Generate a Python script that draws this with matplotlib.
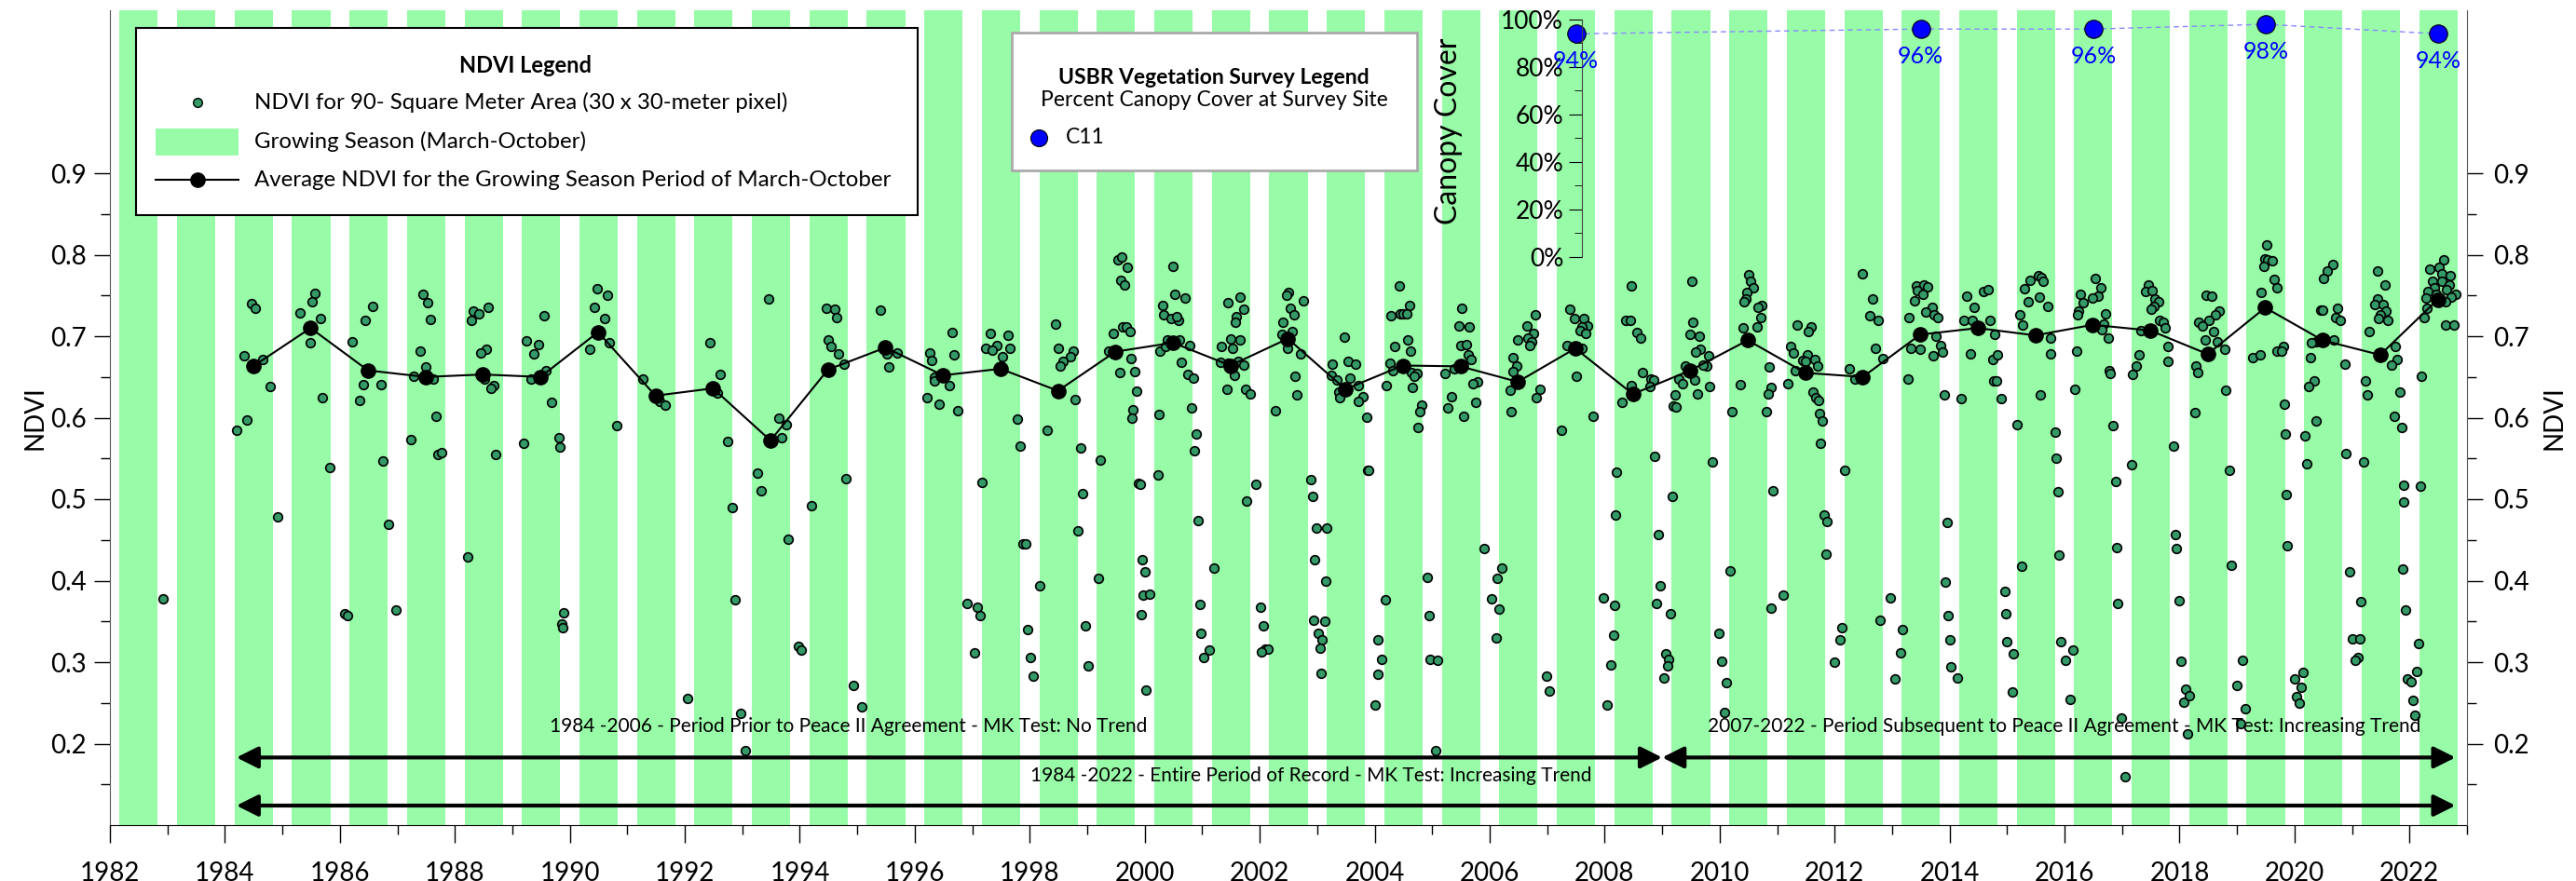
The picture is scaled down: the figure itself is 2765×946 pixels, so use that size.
import matplotlib
matplotlib.use("Agg")
import matplotlib.pyplot as plt
from matplotlib.lines import Line2D
from matplotlib.patches import Rectangle
from matplotlib.ticker import MultipleLocator, FixedLocator, PercentFormatter

plt.rcParams["font.family"] = ["Lato", "DejaVu Sans"]

# --- data --------------------------------------------------------------------
# individual NDVI observations (decimal year, NDVI), one line per growing season
obs_year = [
    1982.92,
    1984.47, 1984.52, 1984.33, 1984.65, 1984.78, 1984.38, 1984.21, 1984.91,
    1985.56, 1985.52, 1985.30, 1985.66, 1985.48, 1985.70, 1985.83, 1986.09, 1986.14,
    1986.57, 1986.44, 1986.22, 1986.40, 1986.71, 1986.35, 1986.75, 1986.84, 1986.97,
    1987.45, 1987.53, 1987.58, 1987.40, 1987.50, 1987.28, 1987.63, 1987.67, 1987.23, 1987.71, 1987.77,
    1988.32, 1988.41, 1988.28, 1988.58, 1988.55, 1988.45, 1988.51, 1988.68, 1988.63, 1988.71, 1988.23,
    1989.55, 1989.25, 1989.46, 1989.37, 1989.59, 1989.33, 1989.68, 1989.19, 1989.81, 1989.83, 1989.90, 1989.86, 1989.88,
    1990.47, 1990.65, 1990.42, 1990.60, 1990.69, 1990.34, 1990.82,
    1991.27, 1991.56, 1991.66, 1992.05,
    1992.44, 1992.62, 1992.57, 1992.75, 1992.83, 1992.88, 1992.97, 1993.06,
    1993.45, 1993.63, 1993.76, 1993.68, 1993.27, 1993.32, 1993.80, 1993.97, 1994.02,
    1994.46, 1994.60, 1994.64, 1994.50, 1994.55, 1994.68, 1994.77, 1994.80, 1994.20, 1994.94, 1995.07,
    1995.41, 1995.51, 1995.69, 1995.55,
    1996.65, 1996.26, 1996.29, 1996.69, 1996.35, 1996.34, 1996.60, 1996.21, 1996.43, 1996.74, 1996.91, 1997.08, 1997.13, 1997.04,
    1997.31, 1997.62, 1997.43, 1997.24, 1997.34, 1997.65, 1997.53, 1997.79, 1997.83, 1997.17, 1997.88, 1997.93, 1997.96, 1998.01, 1998.06,
    1998.45, 1998.49, 1998.75, 1998.71, 1998.58, 1998.53, 1998.79, 1998.31, 1998.88, 1999.23, 1998.92, 1998.84, 1999.19, 1998.18, 1998.97, 1999.02,
    1999.53, 1999.60, 1999.69, 1999.58, 1999.65, 1999.61, 1999.68, 1999.75, 1999.45, 1999.37, 1999.76, 1999.56, 1999.82, 1999.86, 1999.80, 1999.78, 1999.89, 1999.92, 1999.96, 2000.00, 1999.97, 2000.08, 1999.94, 2000.02,
    2000.49, 2000.53, 2000.70, 2000.31, 2000.33, 2000.45, 2000.58, 2000.56, 2000.40, 2000.61, 2000.26, 2000.36, 2000.79, 2000.64, 2000.75, 2000.84, 2000.24, 2000.81, 2000.89, 2000.87, 2000.23, 2000.92, 2001.20, 2000.96, 2000.98, 2001.12, 2001.03,
    2001.45, 2001.66, 2001.73, 2001.60, 2001.58, 2001.49, 2001.65, 2001.34, 2001.53, 2001.31, 2001.45, 2001.62, 2001.72, 2001.56, 2001.43, 2001.75, 2001.84, 2001.93, 2001.77, 2002.01, 2002.06, 2002.10, 2002.15, 2002.03,
    2002.50, 2002.46, 2002.76, 2002.54, 2002.59, 2002.41, 2002.56, 2002.38, 2002.48, 2002.71, 2002.61, 2002.65, 2002.28, 2002.89, 2002.92, 2002.98, 2003.17, 2002.96, 2003.15, 2002.94, 2003.13, 2003.02, 2003.09, 2003.05, 2003.07,
    2003.48, 2003.53, 2003.67, 2003.26, 2003.24, 2003.57, 2003.35, 2003.71, 2003.37, 2003.39, 2003.79, 2003.72, 2003.86, 2003.88, 2003.90, 2004.18, 2004.06, 2004.12, 2004.05, 2004.01,
    2004.43, 2004.60, 2004.29, 2004.44, 2004.50, 2004.55, 2004.58, 2004.35, 2004.62, 2004.26, 2004.32, 2004.64, 2004.73, 2004.69, 2004.20, 2004.66, 2004.82, 2004.78, 2004.75, 2004.91, 2004.95, 2004.96, 2005.10, 2005.06,
    2005.52, 2005.47, 2005.65, 2005.49, 2005.59, 2005.63, 2005.68, 2005.39, 2005.23, 2005.79, 2005.71, 2005.33, 2005.76, 2005.27, 2005.54, 2005.90, 2006.21, 2006.13, 2006.04, 2006.17, 2006.11,
    2006.48, 2006.40, 2006.47, 2006.41, 2006.35, 2006.38, 2006.65, 2006.76, 2006.67, 2006.73, 2006.70, 2006.79, 2006.88, 2006.81, 2006.99, 2007.03,
    2007.40, 2007.47, 2007.64, 2007.70, 2007.61, 2007.57, 2007.67, 2007.34, 2007.60, 2007.51, 2007.80, 2007.25, 2008.21, 2008.19, 2007.98, 2008.17, 2008.15, 2008.11, 2008.04,
    2008.46, 2008.36, 2008.44, 2008.56, 2008.62, 2008.65, 2008.81, 2008.86, 2008.47, 2008.78, 2008.30, 2008.87, 2009.18, 2008.93, 2008.97, 2008.90, 2009.15, 2009.07, 2009.11, 2009.09, 2009.03,
    2009.51, 2009.53, 2009.49, 2009.64, 2009.66, 2009.58, 2009.81, 2009.40, 2009.78, 2009.71, 2009.29, 2009.57, 2009.35, 2009.22, 2009.83, 2009.62, 2009.19, 2009.24, 2009.88, 2010.18, 2009.98, 2010.03, 2010.12, 2010.08,
    2010.51, 2010.54, 2010.59, 2010.48, 2010.45, 2010.42, 2010.73, 2010.67, 2010.71, 2010.41, 2010.65, 2010.86, 2010.90, 2010.84, 2010.36, 2010.22, 2010.82, 2010.93, 2011.10, 2010.90,
    2011.35, 2011.59, 2011.54, 2011.23, 2011.28, 2011.52, 2011.44, 2011.50, 2011.65, 2011.70, 2011.32, 2011.19, 2011.63, 2011.67, 2011.72, 2011.74, 2011.79, 2011.76, 2011.82, 2011.87, 2011.85, 2012.18, 2012.13, 2012.09, 2012.00,
    2012.48, 2012.66, 2012.61, 2012.75, 2012.71, 2012.84, 2012.26, 2012.35, 2012.97, 2012.79, 2013.18, 2013.14, 2013.05,
    2013.42, 2013.56, 2013.61, 2013.44, 2013.53, 2013.39, 2013.69, 2013.59, 2013.73, 2013.80, 2013.29, 2013.77, 2013.84, 2013.32, 2013.48, 2013.88, 2013.72, 2013.28, 2013.91, 2014.20, 2013.96, 2013.93, 2013.98, 2014.00, 2014.03, 2014.13,
    2014.29, 2014.42, 2014.59, 2014.67, 2014.25, 2014.39, 2014.70, 2014.37, 2014.75, 2014.76, 2014.79, 2014.84, 2014.82, 2014.89, 2015.18, 2015.25, 2014.97, 2014.98, 2015.00, 2015.11, 2015.09,
    2015.40, 2015.54, 2015.60, 2015.63, 2015.31, 2015.56, 2015.36, 2015.71, 2015.22, 2015.27, 2015.75, 2015.76, 2015.57, 2015.83, 2015.85, 2015.88, 2015.90, 2015.94, 2016.14, 2016.02, 2016.10,
    2016.53, 2016.63, 2016.28, 2016.58, 2016.49, 2016.32, 2016.25, 2016.22, 2016.71, 2016.68, 2016.65, 2016.76, 2016.21, 2016.18, 2016.78, 2016.80, 2016.84, 2016.89, 2016.91, 2016.93, 2016.99, 2017.05,
    2017.45, 2017.41, 2017.52, 2017.57, 2017.63, 2017.55, 2017.51, 2017.65, 2017.71, 2017.75, 2017.32, 2017.79, 2017.80, 2017.29, 2017.24, 2017.19, 2017.17, 2017.90, 2017.92, 2017.95, 2017.99, 2018.02, 2018.11, 2018.07, 2018.17, 2018.14,
    2018.46, 2018.56, 2018.69, 2018.63, 2018.51, 2018.33, 2018.40, 2018.59, 2018.44, 2018.66, 2018.79, 2018.29, 2018.31, 2018.27, 2018.81, 2018.86, 2018.90, 2019.09, 2018.99, 2019.14, 2019.06,
    2019.52, 2019.48, 2019.54, 2019.61, 2019.47, 2019.65, 2019.69, 2019.42, 2019.27, 2019.41, 2019.70, 2019.81, 2019.77, 2019.82, 2019.84, 2019.86, 2019.88, 2020.00, 2020.11, 2020.14, 2020.03, 2020.08,
    2020.66, 2020.57, 2020.51, 2020.45, 2020.49, 2020.75, 2020.72, 2020.79, 2020.38, 2020.30, 2020.69, 2020.28, 2020.87, 2020.35, 2020.24, 2020.37, 2020.18, 2020.22, 2020.89, 2020.96, 2021.16, 2021.00, 2021.14, 2021.10, 2021.06,
    2021.44, 2021.58, 2021.45, 2021.40, 2021.54, 2021.59, 2021.49, 2021.46, 2021.62, 2021.30, 2021.76, 2021.79, 2021.68, 2021.24, 2021.27, 2021.84, 2021.73, 2021.86, 2021.20, 2021.89, 2022.19, 2021.90, 2021.88, 2021.93, 2022.15, 2022.12, 2021.96, 2022.02, 2022.06, 2022.10,
    2022.59, 2022.35, 2022.51, 2022.56, 2022.71, 2022.40, 2022.57, 2022.43, 2022.70, 2022.32, 2022.46, 2022.65, 2022.81, 2022.28, 2022.73, 2022.63, 2022.31, 2022.25, 2022.63, 2022.77, 2022.21,
]
obs_ndvi = [
    0.378,
    0.740, 0.734, 0.676, 0.671, 0.638, 0.597, 0.585, 0.478,
    0.753, 0.742, 0.729, 0.722, 0.692, 0.625, 0.539, 0.360, 0.357,
    0.737, 0.720, 0.693, 0.641, 0.641, 0.621, 0.547, 0.469, 0.364,
    0.751, 0.741, 0.721, 0.682, 0.662, 0.651, 0.648, 0.602, 0.573, 0.555, 0.557,
    0.731, 0.728, 0.719, 0.735, 0.684, 0.679, 0.648, 0.639, 0.636, 0.555, 0.429,
    0.725, 0.694, 0.690, 0.678, 0.658, 0.647, 0.619, 0.569, 0.575, 0.564, 0.361, 0.347, 0.342,
    0.758, 0.750, 0.735, 0.722, 0.692, 0.684, 0.590,
    0.648, 0.620, 0.616, 0.255,
    0.692, 0.653, 0.630, 0.571, 0.490, 0.377, 0.237, 0.191,
    0.746, 0.599, 0.592, 0.575, 0.532, 0.510, 0.451, 0.319, 0.315,
    0.734, 0.733, 0.723, 0.695, 0.688, 0.678, 0.666, 0.525, 0.492, 0.271, 0.245,
    0.732, 0.678, 0.679, 0.662,
    0.705, 0.679, 0.670, 0.677, 0.650, 0.645, 0.639, 0.625, 0.617, 0.609, 0.372, 0.368, 0.357, 0.311,
    0.703, 0.701, 0.689, 0.685, 0.683, 0.685, 0.675, 0.598, 0.565, 0.521, 0.445, 0.445, 0.340, 0.306, 0.283,
    0.715, 0.685, 0.682, 0.675, 0.669, 0.664, 0.622, 0.585, 0.563, 0.548, 0.507, 0.461, 0.403, 0.394, 0.345, 0.296,
    0.794, 0.797, 0.785, 0.769, 0.763, 0.711, 0.712, 0.706, 0.703, 0.682, 0.673, 0.656, 0.657, 0.633, 0.610, 0.600, 0.519, 0.518, 0.426, 0.411, 0.382, 0.384, 0.358, 0.266,
    0.786, 0.752, 0.747, 0.738, 0.726, 0.722, 0.720, 0.724, 0.695, 0.696, 0.682, 0.687, 0.689, 0.668, 0.653, 0.649, 0.604, 0.612, 0.580, 0.559, 0.530, 0.474, 0.416, 0.371, 0.336, 0.315, 0.306,
    0.741, 0.748, 0.733, 0.724, 0.717, 0.697, 0.695, 0.688, 0.685, 0.668, 0.667, 0.669, 0.665, 0.652, 0.635, 0.635, 0.629, 0.518, 0.498, 0.367, 0.345, 0.316, 0.316, 0.313,
    0.754, 0.750, 0.743, 0.734, 0.726, 0.717, 0.706, 0.702, 0.685, 0.678, 0.651, 0.628, 0.609, 0.524, 0.504, 0.465, 0.465, 0.426, 0.400, 0.351, 0.350, 0.335, 0.327, 0.317, 0.286,
    0.699, 0.669, 0.666, 0.666, 0.652, 0.649, 0.646, 0.640, 0.631, 0.625, 0.626, 0.620, 0.601, 0.536, 0.535, 0.377, 0.328, 0.304, 0.285, 0.247,
    0.762, 0.738, 0.725, 0.728, 0.728, 0.728, 0.696, 0.687, 0.682, 0.667, 0.658, 0.656, 0.654, 0.651, 0.640, 0.637, 0.615, 0.607, 0.588, 0.404, 0.357, 0.304, 0.302, 0.192,
    0.734, 0.713, 0.712, 0.689, 0.690, 0.677, 0.672, 0.660, 0.654, 0.644, 0.642, 0.626, 0.619, 0.612, 0.602, 0.440, 0.416, 0.403, 0.378, 0.365, 0.330,
    0.695, 0.674, 0.663, 0.657, 0.634, 0.608, 0.713, 0.704, 0.698, 0.693, 0.689, 0.726, 0.635, 0.625, 0.283, 0.265,
    0.733, 0.722, 0.722, 0.713, 0.711, 0.707, 0.703, 0.689, 0.685, 0.651, 0.602, 0.585, 0.533, 0.481, 0.379, 0.370, 0.333, 0.297, 0.247,
    0.762, 0.720, 0.720, 0.705, 0.698, 0.655, 0.648, 0.646, 0.639, 0.638, 0.619, 0.553, 0.504, 0.457, 0.394, 0.372, 0.360, 0.310, 0.303, 0.295, 0.281,
    0.768, 0.717, 0.702, 0.700, 0.684, 0.681, 0.676, 0.663, 0.663, 0.665, 0.647, 0.646, 0.642, 0.628, 0.638, 0.629, 0.614, 0.613, 0.546, 0.412, 0.335, 0.301, 0.275, 0.238,
    0.776, 0.767, 0.760, 0.754, 0.746, 0.742, 0.738, 0.735, 0.723, 0.710, 0.712, 0.662, 0.637, 0.629, 0.641, 0.607, 0.607, 0.510, 0.382, 0.366,
    0.714, 0.712, 0.706, 0.687, 0.680, 0.677, 0.670, 0.669, 0.671, 0.664, 0.658, 0.642, 0.632, 0.625, 0.621, 0.605, 0.596, 0.569, 0.481, 0.473, 0.433, 0.536, 0.342, 0.327, 0.300,
    0.777, 0.746, 0.725, 0.719, 0.685, 0.673, 0.660, 0.648, 0.379, 0.351, 0.340, 0.311, 0.280,
    0.762, 0.763, 0.761, 0.756, 0.751, 0.743, 0.736, 0.730, 0.726, 0.723, 0.723, 0.700, 0.689, 0.685, 0.684, 0.681, 0.676, 0.647, 0.628, 0.624, 0.471, 0.398, 0.357, 0.328, 0.294, 0.281,
    0.749, 0.735, 0.755, 0.757, 0.719, 0.720, 0.720, 0.678, 0.671, 0.645, 0.702, 0.677, 0.645, 0.623, 0.592, 0.418, 0.387, 0.360, 0.325, 0.310, 0.263,
    0.769, 0.774, 0.772, 0.768, 0.758, 0.748, 0.742, 0.737, 0.726, 0.714, 0.698, 0.678, 0.628, 0.582, 0.550, 0.509, 0.432, 0.325, 0.315, 0.302, 0.254,
    0.771, 0.760, 0.752, 0.749, 0.747, 0.741, 0.731, 0.726, 0.728, 0.715, 0.708, 0.698, 0.682, 0.635, 0.658, 0.654, 0.590, 0.522, 0.441, 0.372, 0.232, 0.159,
    0.763, 0.755, 0.756, 0.746, 0.742, 0.737, 0.733, 0.720, 0.717, 0.710, 0.707, 0.687, 0.669, 0.677, 0.664, 0.653, 0.542, 0.565, 0.457, 0.440, 0.376, 0.301, 0.267, 0.251, 0.259, 0.212,
    0.750, 0.749, 0.731, 0.726, 0.720, 0.717, 0.713, 0.706, 0.696, 0.693, 0.684, 0.664, 0.655, 0.606, 0.634, 0.535, 0.419, 0.302, 0.272, 0.243, 0.225,
    0.812, 0.795, 0.794, 0.793, 0.786, 0.770, 0.759, 0.754, 0.674, 0.677, 0.682, 0.687, 0.682, 0.617, 0.580, 0.506, 0.443, 0.280, 0.269, 0.287, 0.258, 0.250,
    0.788, 0.780, 0.771, 0.732, 0.732, 0.734, 0.723, 0.719, 0.693, 0.692, 0.695, 0.674, 0.666, 0.645, 0.638, 0.596, 0.578, 0.543, 0.556, 0.411, 0.374, 0.329, 0.329, 0.306, 0.302,
    0.780, 0.763, 0.746, 0.739, 0.739, 0.731, 0.726, 0.722, 0.720, 0.706, 0.688, 0.671, 0.665, 0.645, 0.628, 0.631, 0.602, 0.588, 0.546, 0.517, 0.516, 0.497, 0.414, 0.364, 0.323, 0.289, 0.280, 0.276, 0.253, 0.235,
    0.794, 0.782, 0.785, 0.777, 0.774, 0.768, 0.768, 0.760, 0.763, 0.755, 0.752, 0.757, 0.752, 0.747, 0.748, 0.742, 0.734, 0.723, 0.714, 0.714, 0.651,
]

# growing-season (March-October) average NDVI
avg_years = list(range(1984, 2023))
avg_ndvi = [
    0.663, 0.710, 0.658, 0.650, 0.653, 0.650, 0.705, 0.627, 0.636, 0.572,
    0.659, 0.686, 0.652, 0.660, 0.633, 0.681, 0.692, 0.664, 0.697, 0.635,
    0.664, 0.663, 0.644, 0.685, 0.629, 0.658, 0.695, 0.655, 0.650, 0.702,
    0.710, 0.701, 0.714, 0.707, 0.678, 0.735, 0.695, 0.677, 0.745,
]

# USBR vegetation survey, site C11
survey_years = [2007, 2013, 2016, 2019, 2022]
canopy_cover = [0.94, 0.96, 0.96, 0.98, 0.94]

season_years = list(range(1982, 2023))
season_start_month, season_end_month = 3, 10

periods = [
    (1984.2, 2009.0, 0.183, "1984 -2006 - Period Prior to Peace II Agreement - MK Test: No Trend", 1994.85, 0.21),
    (2009.0, 2022.8, 0.183, "2007-2022 - Period Subsequent to Peace II Agreement - MK Test: Increasing Trend", 2016.0, 0.21),
    (1984.2, 2022.8, 0.124, "1984 -2022 - Entire Period of Record - MK Test: Increasing Trend", 2002.9, 0.149),
]

# --- styling ----------------------------------------------------------------
W, H = 2765, 946
SEASON_COLOR = "#98FBA8"
POINT_COLOR = "#339966"
TICK_FS = 20


def fx(px):
    return px / W


def fy(py):
    return 1 - py / H


fig = plt.figure(figsize=(W / 100, H / 100), dpi=100)
ax = fig.add_axes([fx(118), fy(886), fx(2648) - fx(118), fy(11) - fy(886)])

for yr in season_years:
    ax.axvspan(yr + (season_start_month - 1) / 12, yr + season_end_month / 12,
               color=SEASON_COLOR, lw=0, zorder=0)

ax.scatter(obs_year, obs_ndvi, s=48, color=POINT_COLOR, edgecolor="black",
           linewidth=1.2, zorder=3)
ax.plot([y + 0.49 for y in avg_years], avg_ndvi, color="black", lw=1.5,
        marker="o", markersize=11, zorder=4)

for x0, x1, y, label, tx, ty in periods:
    ax.annotate("", xy=(x1, y), xytext=(x0, y),
                arrowprops=dict(arrowstyle="<|-|>,head_length=0.7,head_width=0.35",
                                mutation_scale=20, lw=3, color="black",
                                shrinkA=0, shrinkB=0), zorder=5)
    ax.text(tx, ty, label, ha="center", va="bottom", fontsize=15, zorder=5)

ax.set_xlim(1982, 2023)
ax.set_ylim(0.1, 1.1)
ax.xaxis.set_major_locator(MultipleLocator(2))
ax.xaxis.set_minor_locator(MultipleLocator(1))
ax.yaxis.set_major_locator(FixedLocator([0.2, 0.3, 0.4, 0.5, 0.6, 0.7, 0.8, 0.9]))
ax.yaxis.set_minor_locator(FixedLocator([0.15 + 0.1 * i for i in range(8)]))
ax.yaxis.set_major_formatter(lambda v, p: f"{v:.1f}")
ax.tick_params(axis="x", which="major", length=14, width=1, pad=14, labelsize=TICK_FS)
ax.tick_params(axis="x", which="minor", length=7, width=1)
ax.tick_params(axis="y", which="major", length=12, width=1, pad=6, labelsize=TICK_FS)
ax.tick_params(axis="y", which="minor", length=7, width=1)
ax.spines["top"].set_visible(False)
ax.spines["right"].set_visible(False)
ax.spines["left"].set_color("#555555")
ax.set_ylabel("NDVI", fontsize=TICK_FS, labelpad=3)

ax2 = ax.twinx()
ax2.set_ylim(ax.get_ylim())
ax2.yaxis.set_major_locator(FixedLocator([0.2, 0.3, 0.4, 0.5, 0.6, 0.7, 0.8, 0.9]))
ax2.yaxis.set_minor_locator(FixedLocator([0.15 + 0.1 * i for i in range(8)]))
ax2.yaxis.set_major_formatter(lambda v, p: f"{v:.1f}")
ax2.tick_params(axis="y", which="major", length=12, width=1, pad=8, labelsize=TICK_FS)
ax2.tick_params(axis="y", which="minor", length=7, width=1)
for s in ["top", "left", "bottom"]:
    ax2.spines[s].set_visible(False)
ax2.spines["right"].set_color("#555555")
ax2.set_ylabel("NDVI", fontsize=TICK_FS, labelpad=10)

# canopy cover inset sharing the time scale of the main axes
ins = fig.add_axes([fx(118), fy(276), fx(2648) - fx(118), fy(21) - fy(276)],
                   facecolor="none")
ins.set_xlim(ax.get_xlim())
ins.set_ylim(0, 1)
for s in ["top", "right", "bottom"]:
    ins.spines[s].set_visible(False)
ins.spines["left"].set_position(("data", 2007.6))
ins.spines["left"].set_color("#444444")
ins.set_xticks([])
ins.yaxis.set_major_locator(MultipleLocator(0.2))
ins.yaxis.set_minor_locator(MultipleLocator(0.1))
ins.yaxis.set_major_formatter(PercentFormatter(1.0, decimals=0))
ins.tick_params(axis="y", which="major", length=10, pad=4, labelsize=19)
ins.tick_params(axis="y", which="minor", length=6)
ins.set_ylabel("Canopy Cover", fontsize=23)
ins.yaxis.set_label_coords(0.574, 0.53)

sx = [y + 0.5 for y in survey_years]
ins.plot(sx, canopy_cover, ls=(0, (4, 3)), color="#8888ff", lw=1, clip_on=False)
ins.plot(sx, canopy_cover, ls="none", marker="o", markersize=14, color="blue",
         markeredgecolor="black", markeredgewidth=0.8, clip_on=False)
for x, v in zip(sx, canopy_cover):
    ins.annotate(f"{v:.0%}", (x, v), xytext=(0, -13), textcoords="offset points",
                 ha="center", va="top", color="blue", fontsize=18)

# NDVI legend
fig.add_artist(Rectangle((fx(146), fy(231)), fx(985) - fx(146), fy(30) - fy(231),
                         transform=fig.transFigure, facecolor="white",
                         edgecolor="black", lw=1.5, zorder=10))
fig.text(fx(564), fy(70), "NDVI Legend", ha="center", va="center",
         fontsize=17, fontweight="bold", zorder=11)
fig.add_artist(Line2D([fx(212)], [fy(110)], ls="none", marker="o", markersize=7,
                      color=POINT_COLOR, markeredgecolor="black", zorder=11))
fig.add_artist(Rectangle((fx(167), fy(167)), fx(256) - fx(167), fy(138) - fy(167),
                         transform=fig.transFigure, facecolor=SEASON_COLOR,
                         lw=0, zorder=11))
fig.add_artist(Line2D([fx(167), fx(256)], [fy(193), fy(193)], color="black", lw=1.5,
                      zorder=11))
fig.add_artist(Line2D([fx(212)], [fy(193)], ls="none", marker="o", markersize=11,
                      color="black", zorder=11))
for py, label in [(110, "NDVI for 90- Square Meter Area (30 x 30-meter pixel)"),
                  (152, "Growing Season (March-October)"),
                  (193, "Average NDVI for the Growing Season Period of March-October")]:
    fig.text(fx(273), fy(py), label, ha="left", va="center", fontsize=17.3, zorder=11)

# USBR legend
fig.add_artist(Rectangle((fx(1086), fy(183)), fx(1521) - fx(1086), fy(35) - fy(183),
                         transform=fig.transFigure, facecolor="white",
                         edgecolor="#aaaaaa", lw=2, zorder=10))
fig.text(fx(1303), fy(83), "USBR Vegetation Survey Legend", ha="center", va="center",
         fontsize=16.5, fontweight="bold", zorder=11)
fig.text(fx(1303), fy(108), "Percent Canopy Cover at Survey Site", ha="center",
         va="center", fontsize=16.5, zorder=11)
fig.add_artist(Line2D([fx(1115)], [fy(148)], ls="none", marker="o", markersize=13,
                      color="blue", markeredgecolor="black", markeredgewidth=0.8,
                      zorder=11))
fig.text(fx(1144), fy(148), "C11", ha="left", va="center", fontsize=16.5, zorder=11)

fig.savefig("out.png", dpi=100)
plt.close(fig)
